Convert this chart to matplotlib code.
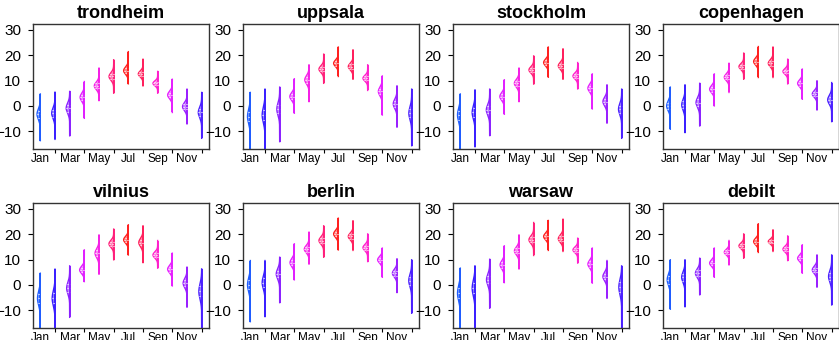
import numpy as np
import matplotlib.pyplot as plt

plt.rcParams['font.family'] = ['Liberation Sans', 'DejaVu Sans']

months = ['Jan', 'Feb', 'Mar', 'Apr', 'May', 'Jun', 'Jul', 'Aug', 'Sep', 'Oct', 'Nov', 'Dec']
cities = ['trondheim', 'uppsala', 'stockholm', 'copenhagen',
          'vilnius', 'berlin', 'warsaw', 'debilt']

month_colors = ['#1f5cff', '#3a1fff', '#8a1fff', '#e01fff', '#f51fe6', '#ff1f7a',
                '#ff1f1f', '#ff1f5c', '#ff1fcc', '#e61fff', '#9a1fff', '#4a1fff']

# centre of the bulge (typical daily mean), per city and month
medians = [
    [-3.3, -2.9, -0.9, 3.4, 7.9, 11.6, 13.9, 12.6, 8.9, 4.3, -0.3, -2.6],
    [-4.2, -3.6, -1.3, 3.7, 10.3, 14.5, 16.8, 15.5, 10.9, 5.7, 0.8, -2.9],
    [-3.6, -2.6, -1.6, 3.7, 8.9, 14.2, 17.1, 15.8, 11.8, 7.0, 1.7, -1.3],
    [0.0, 0.4, 1.3, 6.6, 11.3, 15.5, 17.5, 16.8, 13.6, 8.9, 4.7, 2.4],
    [-5.3, -5.3, -1.3, 5.9, 12.5, 16.2, 17.8, 16.7, 11.8, 6.2, 0.7, -2.6],
    [0.0, 0.9, 4.3, 8.8, 14.1, 17.5, 20.1, 19.1, 14.7, 9.9, 4.6, 1.7],
    [-3.3, -1.3, 2.0, 7.9, 13.4, 17.8, 19.1, 18.2, 13.8, 8.2, 3.3, -0.9],
    [2.0, 3.0, 4.6, 8.6, 12.9, 15.4, 17.1, 17.1, 14.1, 10.5, 5.9, 3.3],
]

lows = [
    [-13.7, -13.2, -11.8, -4.9, 2.1, 5.0, 8.7, 7.9, 5.0, -2.6, -7.1, -12.8],
    [-20.0, -20.0, -14.1, -2.9, 1.7, 8.9, 11.6, 10.5, 6.1, -3.6, -8.4, -15.7],
    [-19.0, -16.1, -11.7, -3.3, 1.7, 8.6, 11.3, 10.5, 6.7, -1.2, -6.8, -12.8],
    [-9.2, -10.5, -7.9, 0.0, 5.3, 10.5, 11.2, 11.2, 8.7, 2.6, -1.6, -6.2],
    [-20.0, -20.0, -12.8, 1.3, 4.2, 9.9, 11.8, 8.8, 6.6, -0.4, -8.8, -20.0],
    [-14.5, -12.5, -7.0, 2.0, 8.2, 10.9, 13.8, 13.6, 9.2, 3.0, -3.0, -11.2],
    [-20.0, -20.0, -9.2, 0.9, 6.3, 11.6, 13.6, 13.2, 8.6, 0.7, -5.3, -19.0],
    [-9.6, -8.6, -3.9, 3.0, 7.9, 10.5, 12.8, 13.2, 9.6, 4.6, -0.9, -7.9],
]

highs = [
    [4.7, 5.4, 5.7, 9.6, 14.9, 18.2, 21.4, 18.4, 13.6, 10.5, 6.6, 5.3],
    [5.3, 6.6, 7.4, 10.7, 16.2, 20.4, 23.2, 22.1, 16.2, 11.8, 7.9, 6.6],
    [4.7, 6.3, 6.6, 10.3, 14.9, 19.7, 23.2, 22.5, 17.1, 12.6, 8.3, 6.6],
    [7.4, 8.3, 8.9, 12.6, 16.8, 20.8, 23.4, 23.2, 18.4, 14.5, 9.9, 9.2],
    [4.6, 6.2, 7.5, 13.8, 19.7, 22.0, 23.7, 23.3, 17.5, 12.5, 7.0, 6.3],
    [9.6, 9.6, 10.9, 16.2, 20.8, 23.3, 26.3, 25.3, 20.1, 14.5, 10.3, 9.9],
    [6.6, 7.5, 10.1, 15.4, 19.7, 24.6, 25.4, 25.9, 18.4, 14.5, 9.6, 7.5],
    [9.9, 9.9, 10.5, 14.5, 17.5, 20.1, 24.1, 21.7, 19.3, 15.8, 11.8, 11.8],
]

fig = plt.figure(figsize=(8.39, 3.40), dpi=100)
col_left = [33, 243, 453, 663]
row_top = [24, 203]
W, H = 176, 125

for k, city in enumerate(cities):
    r, c = divmod(k, 4)
    ax = fig.add_axes([col_left[c] / 839, 1 - (row_top[r] + H) / 340, W / 839, H / 340])

    for i in range(12):
        lo, med, hi = lows[k][i], medians[k][i], highs[k][i]
        col = month_colors[i]
        span = hi - lo
        sigma = span / 9.0
        wmax = 0.32 * min(1.0, max(0.6, 13.0 / span))
        y = np.linspace(lo, hi, 200)
        w = wmax * np.exp(-0.5 * ((y - med) / sigma) ** 2)
        # left half violin
        ax.fill_betweenx(y, i - w, i, color=col, alpha=0.55, lw=0)
        ax.plot(i - w, y, color=col, lw=1.0)
        ax.plot([i, i], [lo, hi], color=col, lw=1.4, solid_capstyle='butt')
        for q in (-0.6745, 0.0, 0.6745):
            yq = med + q * sigma
            wq = wmax * np.exp(-0.5 * q ** 2)
            ax.plot([i - wq, i], [yq, yq], color='white', lw=0.8, ls=':')

    ax.set_xlim(-0.5, 11.5)
    ax.set_ylim(-17, 32.3)
    ax.set_yticks([-10, 0, 10, 20, 30])
    ax.set_xticks(range(0, 12, 2))
    ax.set_xticklabels(months[0::2])
    ax.set_xticks(range(1, 12, 2), minor=True)
    ax.tick_params(axis='x', which='major', length=0, pad=3, labelsize=8.5)
    ax.tick_params(axis='x', which='minor', length=3, width=0.8)
    ax.tick_params(axis='y', length=3.5, width=0.8, pad=5, labelsize=11)
    for s in ax.spines.values():
        s.set_linewidth(1.0)
        s.set_color('#333333')
    ax.set_title(city, fontsize=13, fontweight='bold', pad=4)

fig.savefig('out.png', dpi=100)
